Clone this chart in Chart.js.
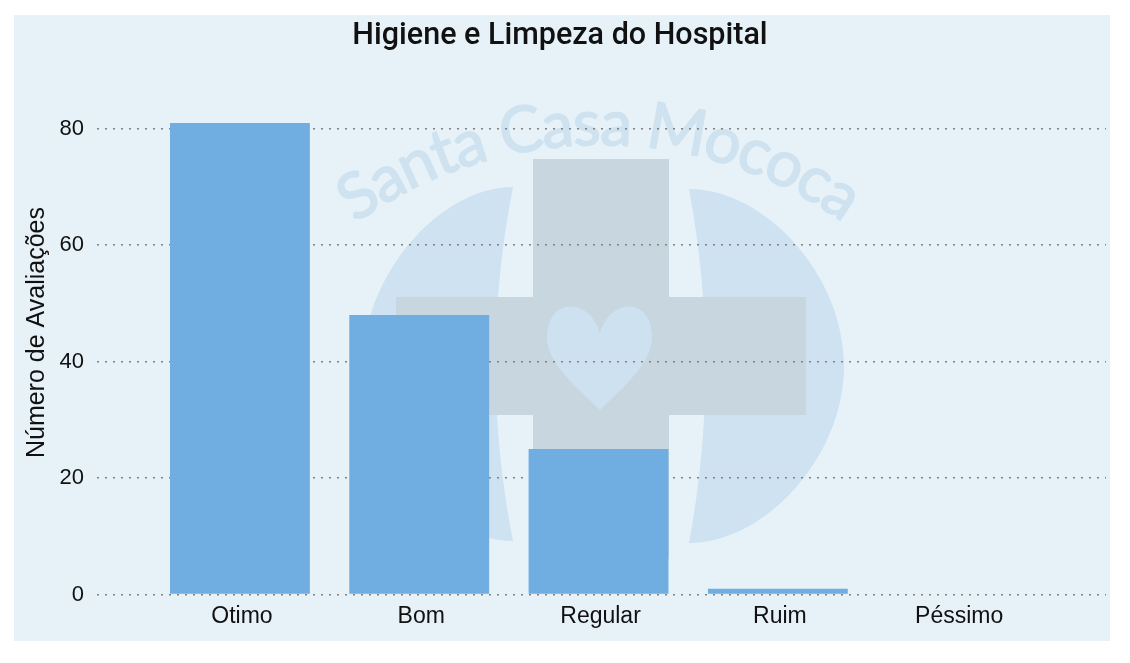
<!DOCTYPE html>
<html>
<head>
<meta charset="utf-8">
<script src="https://cdn.jsdelivr.net/npm/chart.js@4"></script>
<style>
    body { margin: 0; background: #ffffff; }
    #myChart { position: absolute; left: 14px; top: 15px; background: #e6f2f8; }
</style>
</head>
<body>
<canvas id="myChart" width="1096" height="626"></canvas>
<script>
var categorias = ['Otimo', 'Bom', 'Regular', 'Ruim', 'Péssimo']
var avaliacoes = [81, 48, 25, 1, 0]
var ticksY = [0, 20, 40, 60, 80]

// logo da Santa Casa atras do grafico (coordenadas em relacao a pagina)
var marcaDagua = {
    id: 'marcaDagua',
    beforeDraw: function (chart) {
        var c = chart.ctx
        c.save()
        c.translate(-14, -15)

        c.fillStyle = '#cee2f1'
        c.beginPath()
        c.moveTo(513, 187)
        c.bezierCurveTo(440, 187, 363, 275, 363, 365)
        c.bezierCurveTo(363, 455, 440, 541, 513, 541)
        c.quadraticCurveTo(478, 365, 513, 187)
        c.fill()
        c.beginPath()
        c.moveTo(689, 189)
        c.bezierCurveTo(765, 189, 844, 275, 844, 366)
        c.bezierCurveTo(844, 457, 765, 543, 689, 543)
        c.quadraticCurveTo(722, 365, 689, 189)
        c.fill()

        c.fillStyle = '#c8d6df'
        c.fillRect(533, 159, 136, 400)
        c.fillRect(396, 297, 410, 118)

        c.fillStyle = '#cde1f0'
        c.beginPath()
        c.moveTo(600, 333)
        c.bezierCurveTo(590, 298, 547, 296, 547, 338)
        c.bezierCurveTo(547, 365, 585, 395, 600, 410)
        c.bezierCurveTo(615, 395, 652, 365, 652, 338)
        c.bezierCurveTo(652, 296, 610, 298, 600, 333)
        c.fill()

        // texto em arco
        var texto = 'Santa Casa Mococa'
        var cx = 600, cy = 565, raio = 420
        var inicio = -35.5 * Math.PI / 180, fim = 35 * Math.PI / 180
        c.font = '64px Lato'
        c.fillStyle = '#cfe2f0'
        c.strokeStyle = '#cfe2f0'
        c.lineWidth = 1.5
        c.textAlign = 'center'
        c.textBaseline = 'alphabetic'
        var total = c.measureText(texto).width
        var escala = (fim - inicio) * raio / total
        var andado = 0
        for (var i = 0; i < texto.length; i++) {
            var w = c.measureText(texto[i]).width * escala
            var ang = inicio + (andado + w / 2) / raio
            c.save()
            c.translate(cx + raio * Math.sin(ang), cy - raio * Math.cos(ang))
            c.rotate(ang)
            c.fillText(texto[i], 0, 0)
            c.strokeText(texto[i], 0, 0)
            c.restore()
            andado += w
        }
        c.restore()
    }
}

var dados = []
for (var i = 0; i < categorias.length; i++) {
    dados.push({ x: i, y: avaliacoes[i] })
}

const ctx = document.getElementById('myChart')

var grafico = new Chart(ctx, {
    type: 'bar',
    data: {
        datasets: [{
            label: 'Avaliações',
            data: dados,
            backgroundColor: '#70ade1',
            borderWidth: 0,
            categoryPercentage: 1,
            barPercentage: 0.78
        }]
    },
    options: {
        responsive: false,
        animation: false,
        layout: { padding: { right: 4 } },
        plugins: {
            legend: { display: false },
            tooltip: { enabled: false },
            title: {
                display: true,
                text: 'Higiene e Limpeza do Hospital',
                color: '#111111',
                font: { family: 'Roboto', size: 30.5, weight: '500' },
                padding: { top: 3, bottom: 16 }
            }
        },
        scales: {
            x: {
                type: 'linear',
                offset: false,
                min: -0.797,
                max: 4.83,
                afterBuildTicks: function (s) {
                    s.ticks = categorias.map(function (_, i) { return { value: i } })
                },
                afterFit: function (s) { s.height = 46.5 },
                grid: { display: false },
                border: { display: false },
                ticks: {
                    autoSkip: false,
                    maxRotation: 0,
                    padding: 0,
                    labelOffset: 2,
                    color: '#111111',
                    font: { family: 'Liberation Sans', size: 23 },
                    callback: function (v) { return categorias[v] }
                }
            },
            y: {
                min: 0,
                max: 90,
                afterBuildTicks: function (s) {
                    s.ticks = ticksY.map(function (v) { return { value: v } })
                },
                afterFit: function (s) { s.width = 83 },
                grid: {
                    color: '#808080',
                    lineWidth: 1.5,
                    drawTicks: false
                },
                border: { display: false, dash: [2, 6] },
                ticks: {
                    padding: 13,
                    color: '#111111',
                    font: { family: 'Liberation Sans', size: 22 }
                },
                title: {
                    display: true,
                    text: 'Número de Avaliações',
                    color: '#111111',
                    font: { family: 'Liberation Sans', size: 25 },
                    padding: { top: 8, bottom: 0 }
                }
            }
        }
    },
    plugins: [marcaDagua]
})
console.log(grafico.chartArea)
</script>
</body>
</html>
